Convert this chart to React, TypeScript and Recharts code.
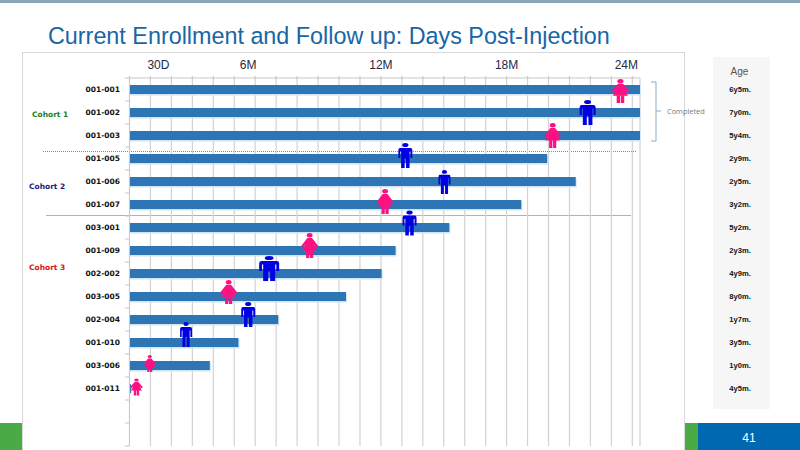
import { Bar, CartesianGrid, ComposedChart, Line, XAxis, YAxis } from "recharts";

// rows, top to bottom (the last two rows of the sheet are empty)
const patients = ["001-001", "001-002", "001-003", "001-005", "001-006", "001-007", "003-001", "001-009", "002-002", "003-005", "002-004", "001-010", "003-006", "001-011", "", ""];
const followUpDays = [731, 731, 731, 598, 639, 561, 458, 381, 361, 310, 213, 156, 115, 2, null, null];
const markerDays = [703, 656, 606, 395, 451, 366, 401, 258, 200, 142, 170, 81, 29, 10, null, null];
const sexes = ["F", "M", "F", "M", "M", "F", "M", "F", "M", "F", "M", "M", "F", "F", "", ""];
const ages = ["6y5m.", "7y0m.", "5y4m.", "2y9m.", "2y5m.", "3y2m.", "5y2m.", "2y3m.", "4y9m.", "8y0m.", "1y7m.", "3y5m.", "1y0m.", "4y5m.", "", ""];
const gridDays = [0, 30, 60, 90, 120, 150, 180, 210, 240, 270, 300, 330, 360, 390, 420, 450, 480, 510, 540, 570, 600, 630, 660, 690, 720];
const tickLabels: Record<number, string> = { 30: "30D", 180: "6M", 360: "12M", 540: "18M", 720: "24M" };

// the figures were pasted onto the slide by hand, so each has its own size
const iconWidths = [18, 16, 17, 14, 12, 17, 14, 17, 20, 17, 14, 12, 12, 13];
const iconHeights = [24, 25, 25, 25, 24, 25, 25, 25, 25, 24, 25, 25, 17, 17];
const iconLifts = [-1.5, 0, 0, 3, -0.5, 3, 4.5, 5, 5, 4.5, 5, 8, 2, 1.5];
const labelNudge: Record<number, number> = { 30: 8, 180: -7, 360: 0, 540: 0, 720: -6 };

const data = patients.map((patient, i) => ({
  patient,
  days: followUpDays[i],
  marker: markerDays[i],
}));

const FONT = "'Liberation Sans', Arial, sans-serif";
const PINK = "#ff1080";
const BLUE = "#0000e0";

function BarShape({ x, y, width, height }: any) {
  if (!width) return null;
  return (
    <g>
      <rect x={x} y={y + 1.5} width={width + 1} height={height} fill="#cfe3f5" />
      <rect x={x} y={y} width={width} height={height} fill="#2e75b6" />
    </g>
  );
}

function Figure({ cx, cy, index }: any) {
  if (cx == null || cy == null || sexes[index] === "") return null;
  const w = iconWidths[index];
  const h = iconHeights[index];
  const transform = `translate(${cx - w / 2} ${cy - iconLifts[index] - h / 2}) scale(${w / 100} ${h / 100})`;
  if (sexes[index] === "F") {
    return (
      <g transform={transform} fill={PINK}>
        <ellipse cx={50} cy={9} rx={17} ry={9} />
        <path d="M36 20 L64 20 L100 52 L88 58 L74 46 L92 70 L8 70 L26 46 L12 58 L0 52 Z" />
        <rect x={29} y={68} width={19} height={32} />
        <rect x={52} y={68} width={19} height={32} />
      </g>
    );
  }
  return (
    <g transform={transform} fill={BLUE}>
      <ellipse cx={50} cy={8} rx={22} ry={8} />
      <path d="M10 20 H90 Q100 20 100 30 V60 H86 V34 H80 V100 H55 V62 H45 V100 H20 V34 H14 V60 H0 V30 Q0 20 10 20 Z" />
    </g>
  );
}

function TopTick({ x, y, payload }: any) {
  const label = tickLabels[payload.value];
  return (
    <g>
      <line x1={x} x2={x} y1={y + 6} y2={y + 9} stroke="#c8c8c8" strokeWidth={1.2} />
      {label && (
        <text x={x + labelNudge[payload.value]} y={69} textAnchor="middle" fontFamily={FONT} fontSize={12} fill="#1f2a44">
          {label}
        </text>
      )}
    </g>
  );
}

function PatientTick({ y, payload, index }: any) {
  return (
    <g>
      <line x1={125} x2={129.5} y1={y + 11.5} y2={y + 11.5} stroke="#c8c8c8" />
      {index === 0 && <line x1={125} x2={129.5} y1={y - 11.5} y2={y - 11.5} stroke="#c8c8c8" />}
      <text x={120} y={y + 2.5} textAnchor="end" fontFamily="'DejaVu Sans'" fontWeight="bold" fontSize={7.5} fill="#111">
        {payload.value}
      </text>
    </g>
  );
}

function AgeTick({ y, index }: any) {
  return (
    <text x={740} y={y + 2.5} textAnchor="middle" fontFamily={FONT} fontWeight="bold" fontSize={7.6} fill="#111">
      {ages[index]}
    </text>
  );
}

function Box({ style, children }: any) {
  return <div style={{ position: "absolute", ...style }}>{children}</div>;
}

function CohortLabel({ left, top, color, children }: any) {
  return (
    <Box style={{ left, top, color, fontFamily: "'DejaVu Sans'", fontWeight: "bold", fontSize: 7.5, lineHeight: "10px", whiteSpace: "nowrap" }}>
      {children}
    </Box>
  );
}

export default function App() {
  return (
    <div style={{ position: "absolute", left: 0, top: 0, width: 800, height: 450, background: "#fff", overflow: "hidden" }}>
      <Box style={{ left: 0, top: 0, width: 800, height: 3, background: "#8ba6b6" }} />
      <Box style={{ left: 48, top: 21, fontFamily: FONT, fontSize: 23.35, lineHeight: "30px", color: "#1766a6", whiteSpace: "nowrap" }}>
        Current Enrollment and Follow up: Days Post-Injection
      </Box>

      {/* chart frame */}
      <Box style={{ left: 22, top: 52, width: 663, height: 400, border: "1px solid #d8d8d8", boxSizing: "border-box" }} />

      {/* age panel */}
      <Box style={{ left: 713, top: 57, width: 57, height: 352, background: "#f6f6f6" }} />
      <Box style={{ left: 713, top: 66, width: 53, textAlign: "center", fontFamily: FONT, fontSize: 10, lineHeight: "12px", color: "#555" }}>Age</Box>

      {/* footer */}
      <Box style={{ left: 0, top: 423, width: 22, height: 27, background: "#4aaa46" }} />
      <Box style={{ left: 685, top: 423, width: 13, height: 27, background: "#4aaa46" }} />
      <Box style={{ left: 698, top: 423, width: 102, height: 27, background: "#0067b1" }} />
      <Box style={{ left: 698, top: 431, width: 102, textAlign: "center", fontFamily: FONT, fontSize: 12, lineHeight: "14px", color: "#fff" }}>41</Box>

      {/* cohort dividers */}
      <Box style={{ left: 43, top: 151, width: 593, height: 0, borderTop: "1px dotted #888" }} />
      <Box style={{ left: 46, top: 215, width: 585, height: 0, borderTop: "1px solid #a3b6c8" }} />
      <CohortLabel left={32} top={110} color="#1a8020">Cohort 1</CohortLabel>
      <CohortLabel left={29} top={182} color="#1a1a80">Cohort 2</CohortLabel>
      <CohortLabel left={29} top={263} color="#e01010">Cohort 3</CohortLabel>

      {/* completed bracket */}
      <svg width={800} height={450} style={{ position: "absolute", left: 0, top: 0 }}>
        <path d="M651 82 H656 V141 H651 M656 111 H661" fill="none" stroke="#8fa9c7" />
        <text x={667} y={114} fontFamily="'Open Sans'" fontSize={7.4} fill="#7a7a7a">Completed</text>
      </svg>

      <Box style={{ left: 0, top: 0 }}>
        <ComposedChart
          width={800}
          height={450}
          data={data}
          layout="vertical"
          barSize={9}
          margin={{ top: 0, right: 0, bottom: 4, left: 0 }}
        >
          <CartesianGrid horizontal={false} stroke="#d2d2d2" strokeWidth={1.2} />
          <XAxis
            type="number"
            orientation="top"
            height={78}
            domain={[0, 731]}
            ticks={gridDays}
            interval={0}
            tickLine={false}
            axisLine={{ stroke: "#c8c8c8", strokeWidth: 1.2 }}
            tick={<TopTick />}
          />
          <YAxis
            yAxisId="patients"
            type="category"
            dataKey="patient"
            width={129.5}
            interval={0}
            tickLine={false}
            axisLine={{ stroke: "#c8c8c8" }}
            tick={<PatientTick />}
          />
          <YAxis
            yAxisId="ages"
            orientation="right"
            type="category"
            dataKey="patient"
            width={160}
            interval={0}
            tickLine={false}
            axisLine={false}
            tick={<AgeTick />}
          />
          <Bar yAxisId="patients" dataKey="days" shape={<BarShape />} isAnimationActive={false} />
          <Line
            yAxisId="patients"
            dataKey="marker"
            stroke="none"
            dot={(props: any) => <Figure key={props.index} {...props} />}
            activeDot={false}
            isAnimationActive={false}
          />
        </ComposedChart>
      </Box>
    </div>
  );
}
